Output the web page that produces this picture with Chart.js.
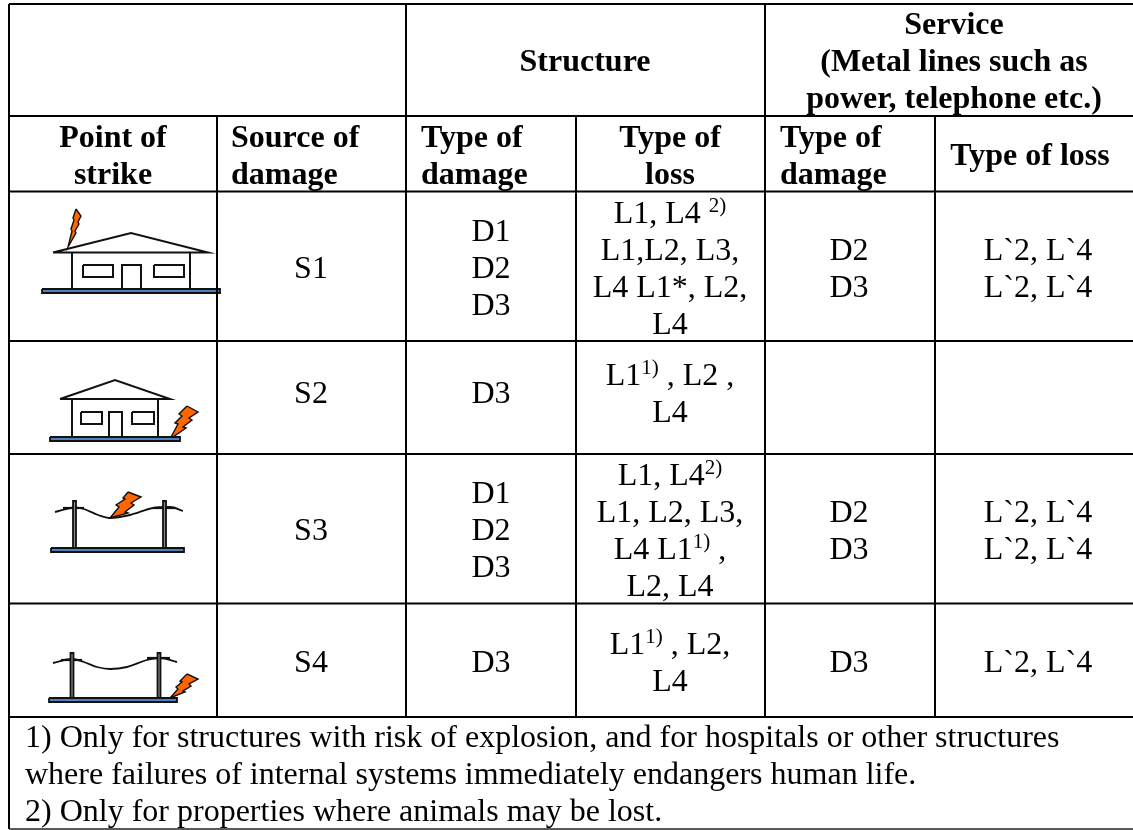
<!DOCTYPE html>
<html>
<head>
<meta charset="utf-8">
<style>html,body{margin:0;padding:0;background:#fff;overflow:hidden}canvas{display:block}</style>
<script src="https://cdn.jsdelivr.net/npm/chart.js@4"></script>
</head>
<body>
<canvas id="c" width="1133" height="830"></canvas>
<script>
// ---- Table content ----
const groupHeaders = [['Structure'], ['Service', '(Metal lines such as', 'power, telephone etc.)']];
const pointHeader = ['Point of', 'strike'];
const sourceHeader = ['Source of', 'damage'];
const damageHeader = ['Type of', 'damage'];
const lossHeader = ['Type of', 'loss'];
const serviceLossHeader = ['Type of loss'];
const sourceOfDamage = ['S1', 'S2', 'S3', 'S4'];
const structureDamage = [['D1', 'D2', 'D3'], ['D3'], ['D1', 'D2', 'D3'], ['D3']];
const structureLoss = [
  ['L1, L4 ^{2)}', 'L1,L2, L3,', 'L4 L1*, L2,', 'L4'],
  ['L1^{1)} , L2 ,', 'L4'],
  ['L1, L4^{2)}', 'L1, L2, L3,', 'L4 L1^{1)} ,', 'L2, L4'],
  ['L1^{1)} , L2,', 'L4']
];
const serviceDamage = [['D2', 'D3'], [], ['D2', 'D3'], ['D3']];
const serviceLoss = [['L`2, L`4', 'L`2, L`4'], [], ['L`2, L`4', 'L`2, L`4'], ['L`2, L`4']];
const footnotes = [
  '1) Only for structures with risk of explosion, and for hospitals or other structures',
  'where failures of internal systems immediately endangers human life.',
  '2) Only for properties where animals may be lost.'
];

// ---- Table layout (in scale units) ----
const rowMid = [278, 403, 540, 672];
const colCentre = { source: 311, damage: 491, loss: 670, sDamage: 849, sLoss: 1038 };
const lineGap = 37;
const gridSegments = [
  [9, 4, 1133, 4], [9, 116, 1133, 116], [9, 191.5, 1133, 191.5], [9, 341, 1133, 341],
  [9, 454, 1133, 454], [9, 603.5, 1133, 603.5], [9, 717, 1133, 717],
  [9, 4, 9, 829], [406, 4, 406, 717], [765, 4, 765, 717],
  [217, 116, 217, 717], [576, 116, 576, 717], [935, 116, 935, 717]
];

// ---- Pictograms ----
const boltColor = '#ff6600', groundColor = '#4f81bd';
const groundBars = [
  [[42,289],[220,289],[220,293],[42,293],[42,289]],
  [[50,437],[180,437],[180,441],[50,441],[50,437]],
  [[51,548],[184,548],[184,552],[51,552],[51,548]],
  [[49,698],[177,698],[177,702],[49,702],[49,698]]
];
const houseLines = [
  [[72,253],[72,289]], [[190,253],[190,289]],
  [[53,252.5],[131,233],[208,252.5],[53,252.5]],
  [[83,265],[113,265],[113,277],[83,277],[83,265]],
  [[154,265],[184,265],[184,277],[154,277],[154,265]],
  [[122,289],[122,265],[141,265],[141,289]],
  [[72,399],[72,437]], [[158,399],[158,437]],
  [[60,399],[115,380],[170,399],[60,399]],
  [[81,412],[102,412],[102,424],[81,424],[81,412]],
  [[132,412],[154,412],[154,424],[132,424],[132,412]],
  [[109,437],[109,412],[122,412],[122,437]]
];
const poles = [
  [[73,548],[73,501],[76,501],[76,548],[73,548]],
  [[163,548],[163,501],[166,501],[166,548],[163,548]],
  [[70.5,698],[70.5,653],[73.5,653],[73.5,698],[70.5,698]],
  [[157.5,698],[157.5,653],[160.5,653],[160.5,698],[157.5,698]]
];
const crossArms = [
  [[63,508],[84,508]], [[153,508],[175,508]],
  [[61,660],[82,660]], [[147,658],[170,658]]
];
const wires = [
  [[55,512],[75,507.5],[84,509],[98,515],[110,518],[130,515],[153,508],[170,507],[183,511]],
  [[53,663],[72,659],[84,662],[97,667],[110,669],[127,667],[147,660],[160,658],[177,662]]
];
const bolts = [
  [[76,209],[81,216],[78,222],[79,224],[75,231],[76,233],[68,247],[72,231],[71,229],[74,220],[73,218],[76,209]],
  [[187,406],[198,412],[189,418],[192,420],[183,427],[186,428],[170,439],[178,424],[175,423],[182,416],[179,414],[187,406]],
  [[128,492],[141,497],[131,503],[134,505],[125,512],[128,513],[110,518],[119,507],[116,505],[125,499],[123,498],[128,492]],
  [[187,674],[198,679],[189,684],[191,686],[183,691],[185,692],[170,698],[178,689],[176,687],[182,682],[180,681],[187,674]]
];

const pts = p => p.map(([x, y]) => ({ x, y }));
const lineDs = (p, color, width, extra) => Object.assign({
  data: pts(p), showLine: true, borderColor: color, borderWidth: width,
  pointRadius: 0, fill: false, tension: 0, order: 1
}, extra || {});

const datasets = [];
gridSegments.forEach(s => datasets.push(lineDs([[s[0], s[1]], [s[2], s[3]]], '#000', 2)));
datasets.push(lineDs([[9, 829], [1133, 829]], '#222', 1.5));
groundBars.forEach(p => datasets.push(lineDs(p, '#111', 1.8, { fill: 'shape', backgroundColor: groundColor })));
houseLines.forEach(p => datasets.push(lineDs(p, '#111', 2)));
poles.forEach(p => datasets.push(lineDs(p, '#111', 1.8, { fill: 'shape', backgroundColor: '#888' })));
crossArms.forEach(p => datasets.push(lineDs(p, '#111', 2.2)));
wires.forEach(p => datasets.push(lineDs(p, '#111', 1.8, { cubicInterpolationMode: 'monotone' })));
bolts.forEach(p => datasets.push(lineDs(p, '#111', 1.4, { fill: 'shape', backgroundColor: boltColor })));

// ---- Text plugin ----
const FONT = '"Liberation Serif","Times New Roman",serif';
const SIZE = 32, SUP = 21, RISE = 11;
function parseRuns(t) {
  const runs = []; const re = /\^\{([^}]*)\}/g; let last = 0, m;
  while ((m = re.exec(t))) {
    if (m.index > last) runs.push([t.slice(last, m.index), false]);
    runs.push([m[1], true]); last = re.lastIndex;
  }
  if (last < t.length) runs.push([t.slice(last), false]);
  return runs;
}
function drawLine(ctx, scales, text, x, y, align, bold) {
  const weight = bold ? 'bold ' : '';
  const runs = parseRuns(text);
  const fontOf = sup => weight + (sup ? SUP : SIZE) + 'px ' + FONT;
  let w = 0;
  runs.forEach(r => { ctx.font = fontOf(r[1]); w += ctx.measureText(r[0]).width; });
  let px = scales.x.getPixelForValue(x);
  const py = scales.y.getPixelForValue(y);
  if (align === 'center') px -= w / 2;
  runs.forEach(r => {
    ctx.font = fontOf(r[1]);
    ctx.fillText(r[0], px, r[1] ? py - RISE : py);
    px += ctx.measureText(r[0]).width;
  });
}
const tablePlugin = {
  id: 'tableText',
  afterDatasetsDraw(chart) {
    const { ctx, scales } = chart;
    ctx.save();
    ctx.fillStyle = '#000'; ctx.textBaseline = 'alphabetic'; ctx.textAlign = 'left';
    const block = (lines, x, first, align, bold) =>
      lines.forEach((t, i) => drawLine(ctx, scales, t, x, first + i * lineGap, align, bold));
    block(groupHeaders[0], 585, 71, 'center', true);
    block(groupHeaders[1], 954, 34, 'center', true);
    block(pointHeader, 113, 147, 'center', true);
    block(sourceHeader, 231, 147, 'left', true);
    block(damageHeader, 421, 147, 'left', true);
    block(lossHeader, 670, 147, 'center', true);
    block(damageHeader, 780, 147, 'left', true);
    block(serviceLossHeader, 1030, 165, 'center', true);
    rowMid.forEach((mid, r) => {
      const put = (lines, x) => block(lines, x, mid - (lines.length - 1) * lineGap / 2, 'center', false);
      put([sourceOfDamage[r]], colCentre.source);
      put(structureDamage[r], colCentre.damage);
      put(structureLoss[r], colCentre.loss);
      put(serviceDamage[r], colCentre.sDamage);
      put(serviceLoss[r], colCentre.sLoss);
    });
    block(footnotes, 25, 747, 'left', false);
    ctx.restore();
  }
};

new Chart(document.getElementById('c'), {
  type: 'scatter',
  data: { datasets },
  plugins: [tablePlugin],
  options: {
    responsive: false, animation: false, devicePixelRatio: 1,
    layout: { padding: 0 },
    plugins: { legend: { display: false }, tooltip: { enabled: false }, title: { display: false } },
    scales: {
      x: { type: 'linear', min: 0, max: 1133, display: false },
      y: { type: 'linear', min: 0, max: 830, reverse: true, display: false }
    }
  }
});
</script>
</body>
</html>
